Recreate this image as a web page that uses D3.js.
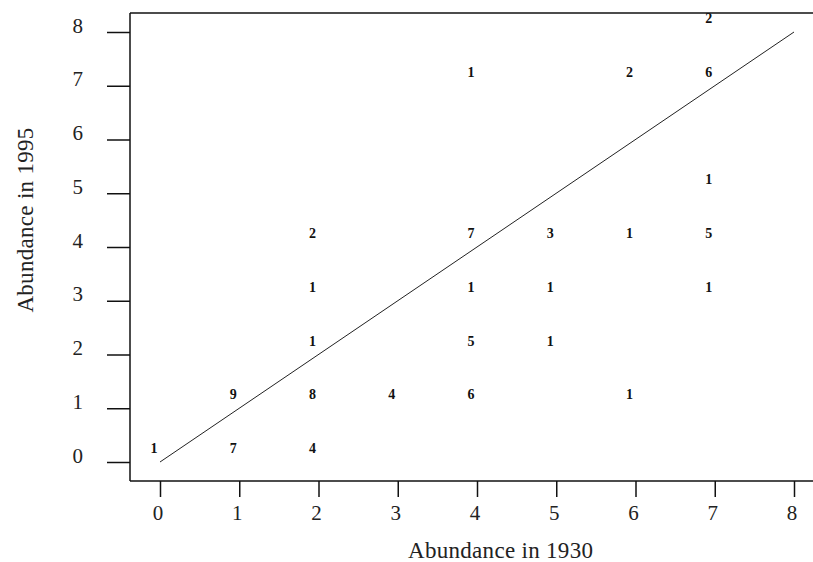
<!DOCTYPE html>
<html>
<head>
<meta charset="utf-8">
<script src="https://cdn.jsdelivr.net/npm/d3@7"></script>
<style>
html,body{margin:0;padding:0;background:#fff;}
svg{display:block;}
</style>
</head>
<body>
<svg id="chart" width="813" height="562"></svg>
<script>
// Data: abundance class in 1930 (x), in 1995 (y), and the number of cases at each cell
const abund1930 = [0,1,1,2,2,2,2,2,3,4,4,4,4,4,5,5,5,6,6,6,7,7,7,7,7];
const abund1995 = [0,0,1,0,1,2,3,4,1,1,2,3,4,7,2,3,4,1,4,7,3,4,5,7,8];
const counts    = [1,7,9,4,8,1,1,2,4,6,5,1,7,1,1,1,3,1,1,2,1,5,1,6,2];
const xTicks = [0,1,2,3,4,5,6,7,8];
const yTicks = [0,1,2,3,4,5,6,7,8];
const refLine = [[0,0],[8,8]];
const xTitle = "Abundance in 1930";
const yTitle = "Abundance in 1995";

const svg = d3.select("#chart");
const W = 813, H = 562;
const frameLeft = 130, frameTop = 13, frameBottom = 481;

const x = d3.scaleLinear().domain([0,8]).range([160,794]);
const y = d3.scaleLinear().domain([0,8]).range([462,32]);

const serif = "'Liberation Serif','Times New Roman',serif";
const ink = "#111";

// frame
svg.append("line").attr("x1",frameLeft).attr("x2",W).attr("y1",frameTop).attr("y2",frameTop)
  .attr("stroke",ink).attr("stroke-width",1.5);
svg.append("line").attr("x1",frameLeft).attr("x2",frameLeft).attr("y1",frameTop).attr("y2",frameBottom)
  .attr("stroke",ink).attr("stroke-width",1.5);
svg.append("line").attr("x1",frameLeft).attr("x2",W).attr("y1",frameBottom).attr("y2",frameBottom)
  .attr("stroke",ink).attr("stroke-width",1.5);

// y axis
const gy = svg.append("g").attr("transform",`translate(${frameLeft},0)`)
  .call(d3.axisLeft(y).tickValues(yTicks).tickFormat(d3.format("d")).tickSize(23).tickPadding(24));
gy.select(".domain").remove();
gy.selectAll(".tick line").attr("stroke",ink).attr("stroke-width",1.5);
gy.selectAll(".tick text").attr("font-family",serif).attr("font-size",21)
  .attr("fill","#222").attr("dy","0em");

// x axis
const gx = svg.append("g").attr("transform",`translate(0,${frameBottom})`)
  .call(d3.axisBottom(x).tickValues(xTicks).tickFormat(d3.format("d")).tickSize(16).tickPadding(8));
gx.select(".domain").remove();
gx.selectAll(".tick line").attr("stroke",ink).attr("stroke-width",1.5);
gx.selectAll(".tick text").attr("font-family",serif).attr("font-size",21)
  .attr("fill","#222").attr("dx",-2.5);

// reference line y = x
svg.append("path")
  .attr("d", d3.line().x(d=>x(d[0])).y(d=>y(d[1]))(refLine))
  .attr("fill","none").attr("stroke","#222").attr("stroke-width",1);

// count labels
svg.append("g").selectAll("text").data(counts).join("text")
  .attr("x",(d,i)=>x(abund1930[i])-6)
  .attr("y",(d,i)=>y(abund1995[i])-9)
  .attr("text-anchor","middle")
  .attr("font-family",serif).attr("font-size",14).attr("font-weight","bold")
  .attr("fill","#111")
  .text(d=>d);

// titles
svg.append("text").attr("x",408).attr("y",558)
  .attr("font-family",serif).attr("font-size",23).attr("fill","#222")
  .attr("letter-spacing",0.3)
  .text(xTitle);
svg.append("text").attr("transform","translate(33,220) rotate(-90)")
  .attr("text-anchor","middle")
  .attr("font-family",serif).attr("font-size",23).attr("fill","#222")
  .attr("letter-spacing",0.3)
  .text(yTitle);
</script>
</body>
</html>
